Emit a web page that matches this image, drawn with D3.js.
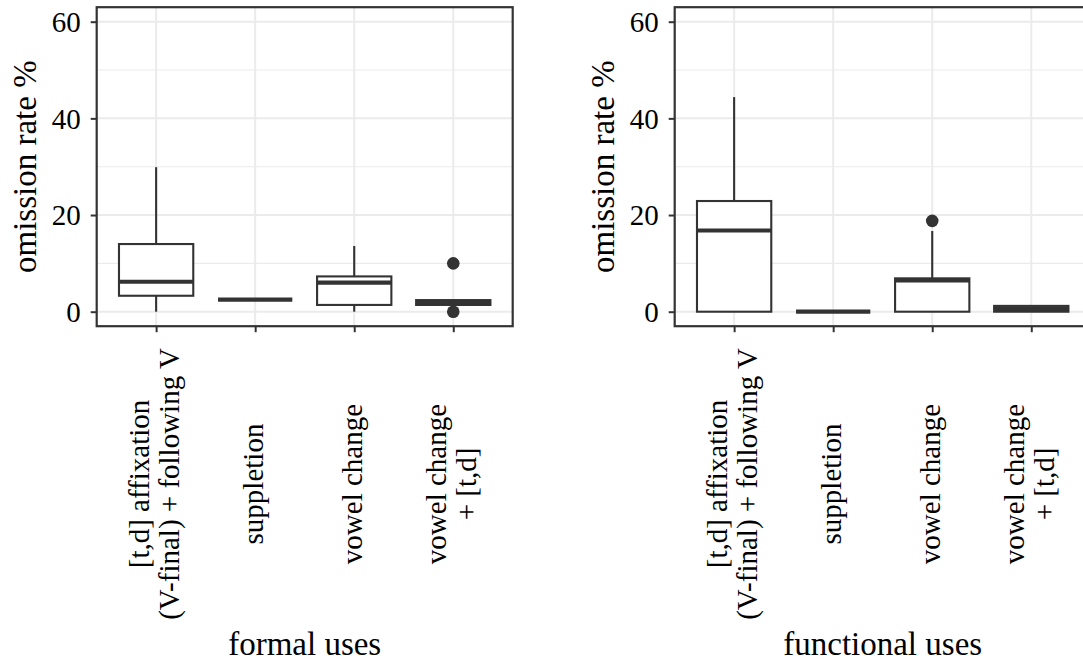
<!DOCTYPE html>
<html>
<head>
<meta charset="utf-8">
<script src="https://cdn.jsdelivr.net/npm/d3@7"></script>
<style>
  html, body { margin: 0; padding: 0; background: #fff; overflow: hidden; }
  text { font-family: "Liberation Serif", "DejaVu Serif", serif; fill: #000; }
</style>
</head>
<body>
<svg id="chart" width="1083" height="664"></svg>
<script>
// Morphological categories on the x axis (multi-line labels split on "\n")
const categories = [
  "[t,d] affixation\n(V-final) + following V",
  "suppletion",
  "vowel change",
  "vowel change\n+ [t,d]"
];

// Tick values for the omission-rate axis
const yTicks = [0, 20, 40, 60];
const yMinorTicks = [10, 30, 50];

// Box summaries per category: [lower whisker, Q1, median, Q3, upper whisker]
const formalStats = [
  [0, 3.3, 6.2, 14.0, 29.9],
  [2.5, 2.5, 2.5, 2.5, 2.5],
  [0, 1.4, 6.0, 7.3, 13.6],
  [1.4, 1.4, 1.9, 2.4, 2.4]
];
const formalOutliers = [[], [], [], [10.0, 0]];

const functionalStats = [
  [0, 0, 16.8, 22.9, 44.4],
  [0, 0, 0, 0, 0],
  [0, 0, 6.5, 6.9, 16.7],
  [0, 0, 0.6, 1.2, 1.2]
];
const functionalOutliers = [[], [], [18.8], []];

const panelTitles = ["formal uses", "functional uses"];
const yTitle = "omission rate %";

const svg = d3.select("#chart");

const plotOffsets = [0, 578];
const panel = { left: 96.7, top: 7.2, width: 416, height: 319 };
const ink = "#333333";
const tickFont = "29px";
const titleFont = "33px";

function drawPlot(offsetX, stats, outliers, title) {
  const g = svg.append("g").attr("transform", `translate(${offsetX},0)`);
  const p = g.append("g").attr("transform", `translate(${panel.left},${panel.top})`);

  const x = d3.scalePoint().domain(categories).range([0, panel.width]).padding(0.6);
  const y = d3.scaleLinear().domain([-3, 63]).range([panel.height, 0]);
  const boxW = x.step() * 0.75;

  // grid: minor horizontal, major horizontal, major vertical
  p.append("g").selectAll("line").data(yMinorTicks).join("line")
    .attr("x1", 0).attr("x2", panel.width)
    .attr("y1", d => y(d)).attr("y2", d => y(d))
    .attr("stroke", "#EBEBEB").attr("stroke-width", 1.1);
  p.append("g").selectAll("line").data(yTicks).join("line")
    .attr("x1", 0).attr("x2", panel.width)
    .attr("y1", d => y(d)).attr("y2", d => y(d))
    .attr("stroke", "#EBEBEB").attr("stroke-width", 2);
  p.append("g").selectAll("line").data(categories).join("line")
    .attr("x1", d => x(d)).attr("x2", d => x(d))
    .attr("y1", 0).attr("y2", panel.height)
    .attr("stroke", "#EBEBEB").attr("stroke-width", 2);

  // boxes
  const boxes = p.append("g").selectAll("g").data(stats).join("g")
    .attr("transform", (d, i) => `translate(${x(categories[i])},0)`);
  boxes.append("line")
    .attr("x1", 0).attr("x2", 0)
    .attr("y1", d => y(d[4])).attr("y2", d => y(d[3]))
    .attr("stroke", ink).attr("stroke-width", 2.1);
  boxes.append("line")
    .attr("x1", 0).attr("x2", 0)
    .attr("y1", d => y(d[1])).attr("y2", d => y(d[0]))
    .attr("stroke", ink).attr("stroke-width", 2.1);
  boxes.append("rect")
    .attr("x", -boxW / 2).attr("width", boxW)
    .attr("y", d => y(d[3])).attr("height", d => y(d[1]) - y(d[3]))
    .attr("fill", "#fff").attr("stroke", ink).attr("stroke-width", 2.1);
  boxes.append("line")
    .attr("x1", -boxW / 2).attr("x2", boxW / 2)
    .attr("y1", d => y(d[2])).attr("y2", d => y(d[2]))
    .attr("stroke", ink).attr("stroke-width", 4.2);

  // outliers
  boxes.each(function (d, i) {
    d3.select(this).selectAll("circle").data(outliers[i]).join("circle")
      .attr("cx", 0).attr("cy", v => y(v)).attr("r", 6.3).attr("fill", ink);
  });

  // panel border
  p.append("rect").attr("x", 0).attr("y", 0)
    .attr("width", panel.width).attr("height", panel.height)
    .attr("fill", "none").attr("stroke", ink).attr("stroke-width", 2.2);

  // y axis
  const yAxis = p.append("g").call(
    d3.axisLeft(y).tickValues(yTicks).tickSize(6).tickPadding(10).tickFormat(d3.format("d"))
  );
  yAxis.select(".domain").remove();
  yAxis.selectAll(".tick line").attr("stroke", ink).attr("stroke-width", 2);
  yAxis.selectAll(".tick text")
    .style("font-family", '"Liberation Serif", serif')
    .style("font-size", tickFont).attr("fill", "#000").attr("dy", "0.34em");

  // x axis ticks
  const xAxis = p.append("g").attr("transform", `translate(0,${panel.height})`)
    .call(d3.axisBottom(x).tickSize(6).tickFormat(""));
  xAxis.select(".domain").remove();
  xAxis.selectAll(".tick line").attr("stroke", ink).attr("stroke-width", 2);

  // rotated, centred multi-line category labels
  const lineH = 30;
  const labelCentreY = 484 - panel.top;
  categories.forEach(c => {
    const lines = c.split("\n");
    const t = p.append("text")
      .attr("transform", `translate(${x(c)},${labelCentreY}) rotate(-90)`)
      .attr("text-anchor", "middle")
      .style("font-size", tickFont);
    lines.forEach((ln, k) => {
      t.append("tspan").attr("x", 0)
        .attr("y", (k - (lines.length - 1) / 2) * lineH + 8)
        .text(ln);
    });
  });

  // axis titles
  g.append("text")
    .attr("transform", `translate(36,${panel.top + panel.height / 2}) rotate(-90)`)
    .attr("text-anchor", "middle")
    .style("font-size", titleFont)
    .text(yTitle);
  g.append("text")
    .attr("x", panel.left + panel.width / 2).attr("y", 655)
    .attr("text-anchor", "middle")
    .style("font-size", titleFont)
    .text(title);
}

drawPlot(plotOffsets[0], formalStats, formalOutliers, panelTitles[0]);
drawPlot(plotOffsets[1], functionalStats, functionalOutliers, panelTitles[1]);
</script>
</body>
</html>
